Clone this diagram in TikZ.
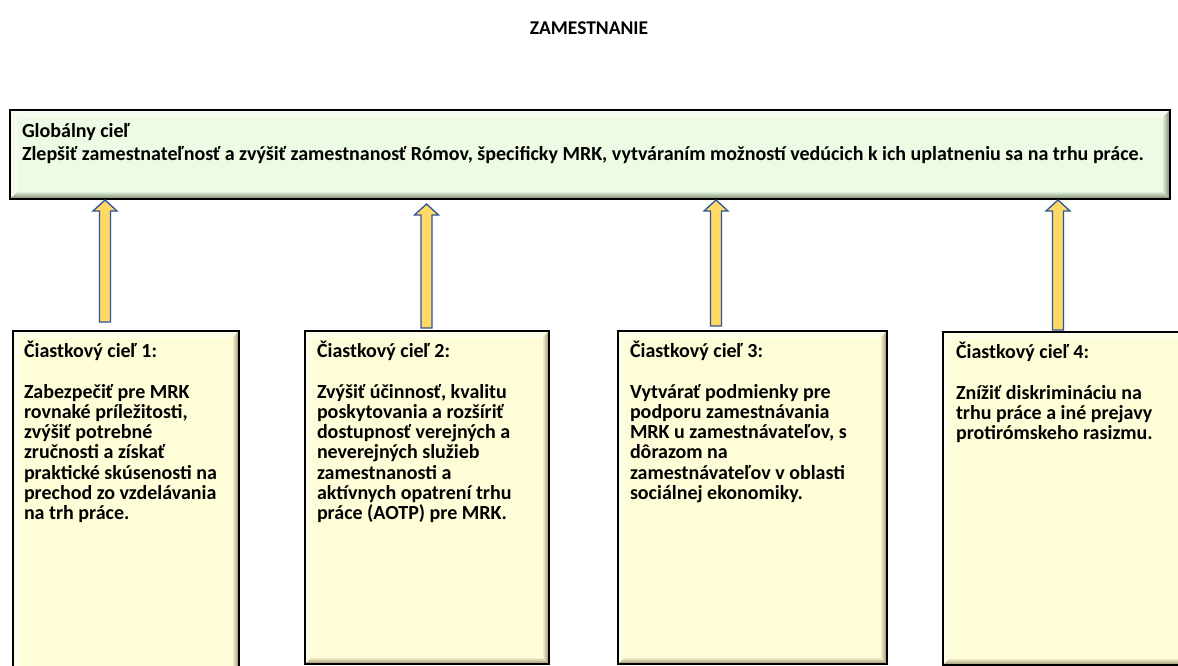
\documentclass[tikz,border=0pt]{standalone}
\usepackage{fontspec}
\setmainfont{Carlito}
\usetikzlibrary{calc}
\definecolor{gfill}{RGB}{237,250,228}
\definecolor{glight}{RGB}{246,253,240}
\definecolor{gdark}{RGB}{118,130,108}
\definecolor{yfill}{RGB}{255,253,216}
\definecolor{ylight}{RGB}{255,254,232}
\definecolor{ydark}{RGB}{150,140,104}
\definecolor{arrfill}{RGB}{255,217,102}
\definecolor{arrline}{RGB}{47,85,151}
\tikzset{
  boxbase/.style={rectangle, inner sep=0pt, outer sep=0pt, anchor=north west},
  gbox/.style={boxbase, fill=gfill},
  ybox/.style={boxbase, fill=yfill},
  boxline/.style={draw=black, line width=2.2pt},
  txt/.style={inner sep=0pt, outer sep=0pt, anchor=north west, align=left, font=\bfseries\fontsize{20}{20.3}\selectfont},
  gtxt/.style={txt, font=\bfseries\fontsize{20}{23.5}\selectfont},
  titletxt/.style={inner sep=0pt, font=\bfseries\fontsize{19.5}{22}\selectfont},
  blockarrow/.style={draw=arrline, fill=arrfill, line width=1.3pt, line join=miter},
}
\newcommand\bevelbox[5]{%
  \fill[#3] (#1.north west) -- (#1.north east) -- ($(#1.north east)+(-#2,#2)$) -- ($(#1.north west)+(#2,#2)$) -- cycle;
  \fill[#3] (#1.north west) -- ($(#1.north west)+(#2,#2)$) -- ($(#1.south west)+(#2,-#2)$) -- (#1.south west) -- cycle;
  \shade[left color=#4, right color=#5] (#1.north east) -- (#1.south east) -- ($(#1.south east)+(-#2,-#2)$) -- ($(#1.north east)+(-#2,#2)$) -- cycle;
  \shade[top color=#4, bottom color=#5] (#1.south west) -- (#1.south east) -- ($(#1.south east)+(-#2,-#2)$) -- ($(#1.south west)+(#2,-#2)$) -- cycle;
  \draw[boxline] (#1.north west) rectangle (#1.south east);
}
\newcommand\blockarr[2]{%
  \draw[blockarrow] ($(#1)+(-5.5,0)$) -- ($(#2)+(-5.5,11)$) -- ($(#2)+(-12,11)$) -- (#2) -- ($(#2)+(12,11)$) -- ($(#2)+(5.5,11)$) -- ($(#1)+(5.5,0)$) -- cycle;
}
\begin{document}
\begin{tikzpicture}[x=1pt,y=-1pt]
\useasboundingbox (0,0) rectangle (1178,666);
\clip (0,0) rectangle (1178,666);
\fill[white] (0,0) rectangle (1178,666);

\node[titletxt] (title) at (589,28) {ZAMESTNANIE};

% global goal
\node[gbox, minimum width=1160pt, minimum height=89pt] (g) at (10,110) {};
\bevelbox{g}{8}{glight}{gfill}{gdark}
\node[gtxt] (gt) at ($(g.north west)+(12,13)$) {Globálny cieľ\\Zlepšiť zamestnateľnosť a zvýšiť zamestnanosť Rómov, špecificky MRK, vytváraním možností vedúcich k ich uplatneniu sa na trhu práce.};

% sub goals
\node[ybox, minimum width=226pt, minimum height=345pt] (s1) at (13,331) {};
\node[ybox, minimum width=244pt, minimum height=333pt] (s2) at (305,331) {};
\node[ybox, minimum width=269pt, minimum height=333pt] (s3) at (618,331) {};
\node[ybox, minimum width=250pt, minimum height=333pt] (s4) at (943,332) {};
\bevelbox{s1}{7}{ylight}{yfill}{ydark}
\bevelbox{s2}{7}{ylight}{yfill}{ydark}
\bevelbox{s3}{7}{ylight}{yfill}{ydark}
\bevelbox{s4}{7}{ylight}{yfill}{ydark}

\node[txt] (t1) at ($(s1.north west)+(11,10)$) {Čiastkový cieľ 1:\\[20.3pt]Zabezpečiť pre MRK\\rovnaké príležitosti,\\zvýšiť potrebné\\zručnosti a získať\\praktické skúsenosti na\\prechod zo vzdelávania\\na trh práce.};
\node[txt] (t2) at ($(s2.north west)+(12,10)$) {Čiastkový cieľ 2:\\[20.3pt]Zvýšiť účinnosť, kvalitu\\poskytovania a rozšíriť\\dostupnosť verejných a\\neverejných služieb\\zamestnanosti a\\aktívnych opatrení trhu\\práce (AOTP) pre MRK.};
\node[txt] (t3) at ($(s3.north west)+(12,10)$) {Čiastkový cieľ 3:\\[20.3pt]Vytvárať podmienky pre\\podporu zamestnávania\\MRK u zamestnávateľov, s\\dôrazom na\\zamestnávateľov v oblasti\\sociálnej ekonomiky.};
\node[txt] (t4) at ($(s4.north west)+(13,10)$) {Čiastkový cieľ 4:\\[20.3pt]Znížiť diskrimináciu na\\trhu práce a iné prejavy\\protirómskeho rasizmu.};

% arrows
\coordinate (a1b) at (105,322); \coordinate (a1t) at (105,200);
\coordinate (a2b) at (426.5,328); \coordinate (a2t) at (426.5,204);
\coordinate (a3b) at (716,326); \coordinate (a3t) at (716,200);
\coordinate (a4b) at (1058,330); \coordinate (a4t) at (1058,200);
\blockarr{a1b}{a1t}
\blockarr{a2b}{a2t}
\blockarr{a3b}{a3t}
\blockarr{a4b}{a4t}
\end{tikzpicture}
\end{document}
